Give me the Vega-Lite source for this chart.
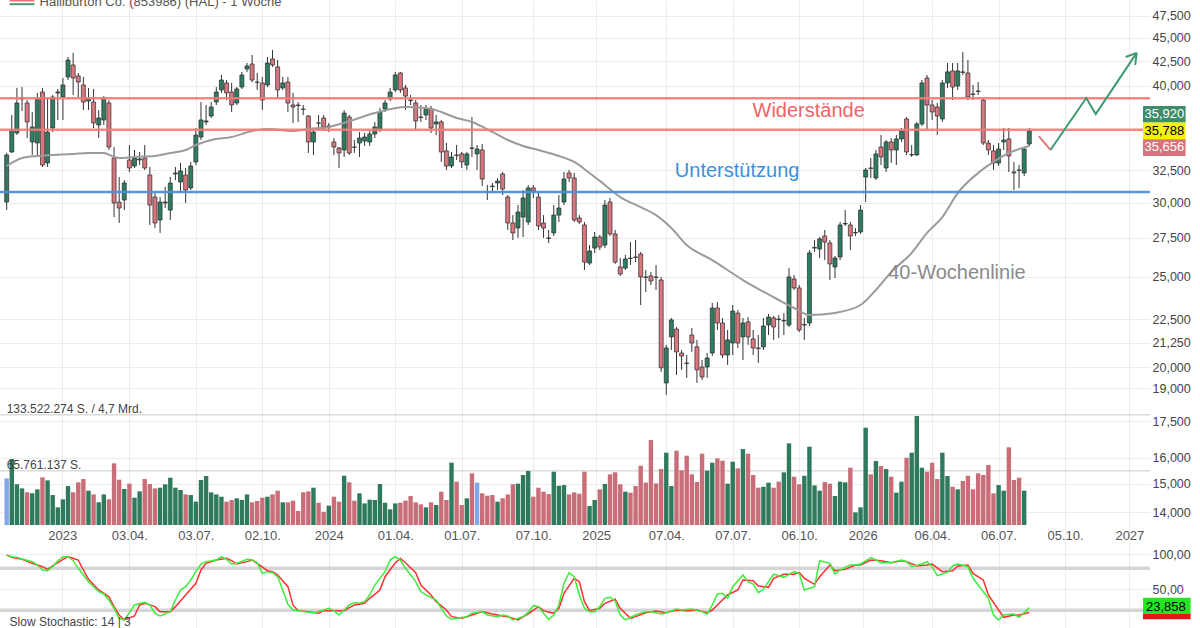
{
"$schema":"https://vega.github.io/schema/vega-lite/v6.json",
"width":1150,"height":628,
"autosize":{"type":"none"},
"padding":{"left":0,"top":0,"right":50,"bottom":0},
"background":"#ffffff",
"config":{"view":{"stroke":null},"font":"Liberation Sans","text":{"font":"Liberation Sans"}},
"datasets":{
"c":[
{"d":"2022-10-17","o":30.04,"h":33.90,"l":29.45,"c":33.73,"v":56.5,"f":1},
{"d":"2022-10-24","o":33.98,"h":37.22,"l":33.90,"c":35.87,"v":79.9},
{"d":"2022-10-31","o":35.61,"h":39.79,"l":35.43,"c":38.34,"v":49.3},
{"d":"2022-11-07","o":38.72,"h":39.88,"l":37.59,"c":38.81,"v":44.4},
{"d":"2022-11-14","o":38.34,"h":38.62,"l":35.17,"c":36.59,"v":39.6},
{"d":"2022-11-21","o":34.83,"h":37.50,"l":33.73,"c":36.14,"v":38.4},
{"d":"2022-11-28","o":34.74,"h":39.30,"l":33.73,"c":38.72,"v":43.2},
{"d":"2022-12-05","o":39.39,"h":39.79,"l":32.75,"c":32.91,"v":57.7},
{"d":"2022-12-12","o":33.07,"h":38.81,"l":32.75,"c":35.69,"v":54.1},
{"d":"2022-12-19","o":36.05,"h":39.10,"l":35.69,"c":38.91,"v":36.3},
{"d":"2022-12-26","o":39.30,"h":39.69,"l":36.77,"c":39.39,"v":21.4},
{"d":"2023-01-02","o":38.91,"h":40.77,"l":36.77,"c":40.08,"v":31.1},
{"d":"2023-01-09","o":40.88,"h":42.94,"l":40.57,"c":42.62,"v":47.2},
{"d":"2023-01-16","o":42.10,"h":43.37,"l":39.10,"c":40.77,"v":39.6},
{"d":"2023-01-23","o":40.98,"h":41.28,"l":38.91,"c":40.37,"v":51.7},
{"d":"2023-01-30","o":40.08,"h":40.88,"l":37.68,"c":38.43,"v":55.7},
{"d":"2023-02-06","o":38.53,"h":39.79,"l":37.68,"c":38.81,"v":41.6},
{"d":"2023-02-13","o":38.43,"h":39.69,"l":36.05,"c":36.50,"v":37.1},
{"d":"2023-02-20","o":36.32,"h":37.68,"l":35.17,"c":36.95,"v":27.5},
{"d":"2023-02-27","o":36.77,"h":39.00,"l":36.32,"c":38.81,"v":37.1},
{"d":"2023-03-06","o":38.34,"h":38.62,"l":34.15,"c":34.40,"v":31.1},
{"d":"2023-03-13","o":33.48,"h":34.40,"l":28.95,"c":29.97,"v":74.7},
{"d":"2023-03-20","o":30.04,"h":31.95,"l":28.53,"c":29.60,"v":54.9},
{"d":"2023-03-27","o":30.19,"h":31.71,"l":29.45,"c":31.48,"v":43.6},
{"d":"2023-04-03","o":33.32,"h":34.57,"l":32.35,"c":32.67,"v":50.1},
{"d":"2023-04-10","o":32.83,"h":34.15,"l":32.67,"c":33.48,"v":33.1},
{"d":"2023-04-17","o":33.32,"h":33.98,"l":32.91,"c":33.40,"v":40.8},
{"d":"2023-04-24","o":33.48,"h":34.57,"l":32.51,"c":32.67,"v":55.7},
{"d":"2023-05-01","o":32.11,"h":32.75,"l":28.39,"c":29.82,"v":49.7},
{"d":"2023-05-08","o":30.41,"h":30.71,"l":28.18,"c":28.53,"v":44.4},
{"d":"2023-05-15","o":28.74,"h":30.41,"l":27.84,"c":30.04,"v":45.2},
{"d":"2023-05-22","o":29.97,"h":31.17,"l":29.60,"c":30.04,"v":49.3},
{"d":"2023-05-29","o":29.45,"h":31.95,"l":28.74,"c":31.48,"v":57.3},
{"d":"2023-06-05","o":32.19,"h":32.75,"l":31.71,"c":32.27,"v":45.2},
{"d":"2023-06-12","o":31.56,"h":33.07,"l":30.71,"c":32.43,"v":42.4},
{"d":"2023-06-19","o":32.11,"h":32.67,"l":29.97,"c":30.94,"v":37.1},
{"d":"2023-06-26","o":31.10,"h":33.16,"l":30.94,"c":32.83,"v":36.3},
{"d":"2023-07-03","o":33.16,"h":36.05,"l":32.91,"c":35.43,"v":28.3},
{"d":"2023-07-10","o":35.26,"h":38.43,"l":35.00,"c":36.77,"v":54.5},
{"d":"2023-07-17","o":36.59,"h":38.15,"l":36.32,"c":36.68,"v":59.3},
{"d":"2023-07-24","o":37.13,"h":38.43,"l":36.95,"c":37.96,"v":39.6},
{"d":"2023-07-31","o":38.43,"h":39.88,"l":38.15,"c":39.39,"v":37.1},
{"d":"2023-08-07","o":39.59,"h":41.08,"l":39.30,"c":40.57,"v":34.3},
{"d":"2023-08-14","o":40.28,"h":40.57,"l":38.62,"c":39.30,"v":28.3},
{"d":"2023-08-21","o":39.39,"h":40.28,"l":37.50,"c":38.15,"v":30.3},
{"d":"2023-08-28","o":38.34,"h":39.88,"l":38.15,"c":39.69,"v":32.3},
{"d":"2023-09-04","o":39.88,"h":41.39,"l":39.69,"c":41.08,"v":30.3},
{"d":"2023-09-11","o":41.69,"h":42.31,"l":41.39,"c":42.00,"v":37.1},
{"d":"2023-09-18","o":42.20,"h":43.15,"l":40.37,"c":40.57,"v":27.5},
{"d":"2023-09-25","o":40.37,"h":41.28,"l":39.59,"c":40.35,"v":29.1},
{"d":"2023-10-02","o":40.28,"h":40.88,"l":37.68,"c":38.62,"v":33.1},
{"d":"2023-10-09","o":40.08,"h":42.94,"l":39.88,"c":42.31,"v":34.3},
{"d":"2023-10-16","o":42.73,"h":43.69,"l":41.90,"c":42.10,"v":37.1},
{"d":"2023-10-23","o":41.90,"h":42.62,"l":38.81,"c":39.59,"v":41.6},
{"d":"2023-10-30","o":39.79,"h":40.88,"l":39.59,"c":40.28,"v":27.5},
{"d":"2023-11-06","o":40.37,"h":40.88,"l":37.50,"c":38.34,"v":27.5},
{"d":"2023-11-13","o":38.15,"h":39.30,"l":36.50,"c":37.96,"v":29.5},
{"d":"2023-11-20","o":38.15,"h":38.43,"l":36.59,"c":38.10,"v":17.0},
{"d":"2023-11-27","o":37.77,"h":38.15,"l":37.22,"c":37.75,"v":39.6},
{"d":"2023-12-04","o":37.13,"h":37.22,"l":33.90,"c":34.83,"v":40.8},
{"d":"2023-12-11","o":34.83,"h":35.87,"l":33.73,"c":35.69,"v":45.2},
{"d":"2023-12-18","o":36.50,"h":37.22,"l":35.87,"c":36.48,"v":27.0},
{"d":"2023-12-25","o":36.95,"h":37.22,"l":35.87,"c":36.14,"v":16.1},
{"d":"2024-01-01","o":36.14,"h":36.50,"l":35.69,"c":36.23,"v":23.4},
{"d":"2024-01-08","o":34.83,"h":35.17,"l":33.73,"c":34.40,"v":34.3},
{"d":"2024-01-15","o":34.32,"h":34.40,"l":32.67,"c":33.90,"v":28.3},
{"d":"2024-01-22","o":34.15,"h":37.68,"l":33.57,"c":37.40,"v":59.7},
{"d":"2024-01-29","o":37.04,"h":37.22,"l":33.73,"c":33.90,"v":51.7},
{"d":"2024-02-05","o":34.40,"h":35.00,"l":33.90,"c":34.38,"v":29.5},
{"d":"2024-02-12","o":34.74,"h":35.69,"l":33.57,"c":35.17,"v":38.4},
{"d":"2024-02-19","o":34.91,"h":35.61,"l":34.49,"c":35.26,"v":26.2},
{"d":"2024-02-26","o":34.83,"h":35.87,"l":34.49,"c":35.52,"v":30.7},
{"d":"2024-03-04","o":35.52,"h":36.59,"l":35.17,"c":36.14,"v":30.3},
{"d":"2024-03-11","o":35.87,"h":37.87,"l":35.69,"c":37.50,"v":49.7},
{"d":"2024-03-18","o":37.77,"h":38.62,"l":37.50,"c":38.34,"v":27.0},
{"d":"2024-03-25","o":38.72,"h":39.79,"l":38.53,"c":39.39,"v":19.0},
{"d":"2024-04-01","o":39.59,"h":41.39,"l":39.39,"c":41.08,"v":26.2},
{"d":"2024-04-08","o":41.28,"h":41.39,"l":39.30,"c":39.59,"v":27.0},
{"d":"2024-04-15","o":39.79,"h":40.08,"l":37.68,"c":39.00,"v":29.5},
{"d":"2024-04-22","o":38.62,"h":39.10,"l":38.15,"c":38.58,"v":35.1},
{"d":"2024-04-29","o":38.34,"h":38.62,"l":35.87,"c":36.68,"v":27.5},
{"d":"2024-05-06","o":37.04,"h":38.15,"l":36.59,"c":37.00,"v":25.0},
{"d":"2024-05-13","o":37.22,"h":38.15,"l":36.77,"c":37.77,"v":21.4},
{"d":"2024-05-20","o":37.77,"h":38.06,"l":35.61,"c":36.05,"v":27.5},
{"d":"2024-05-27","o":36.41,"h":37.22,"l":35.43,"c":36.59,"v":24.2},
{"d":"2024-06-03","o":36.59,"h":36.77,"l":33.16,"c":33.98,"v":40.4},
{"d":"2024-06-10","o":34.07,"h":34.74,"l":32.51,"c":32.83,"v":30.3},
{"d":"2024-06-17","o":32.83,"h":33.98,"l":32.67,"c":33.57,"v":75.5},
{"d":"2024-06-24","o":33.73,"h":34.57,"l":33.32,"c":33.69,"v":52.5},
{"d":"2024-07-01","o":33.82,"h":33.98,"l":32.67,"c":33.16,"v":24.2},
{"d":"2024-07-08","o":32.91,"h":33.98,"l":32.51,"c":33.82,"v":32.3},
{"d":"2024-07-15","o":34.32,"h":37.04,"l":33.57,"c":34.28,"v":62.6},
{"d":"2024-07-22","o":33.82,"h":34.57,"l":32.51,"c":34.23,"v":51.3,"f":1},
{"d":"2024-07-29","o":34.15,"h":34.66,"l":31.25,"c":31.79,"v":38.4},
{"d":"2024-08-05","o":30.79,"h":31.33,"l":30.19,"c":30.75,"v":35.5},
{"d":"2024-08-12","o":31.25,"h":31.48,"l":30.71,"c":31.21,"v":36.3},
{"d":"2024-08-19","o":31.48,"h":31.87,"l":30.94,"c":31.63,"v":28.3},
{"d":"2024-08-26","o":32.19,"h":32.35,"l":30.56,"c":31.02,"v":32.3},
{"d":"2024-09-02","o":30.41,"h":30.56,"l":28.04,"c":28.53,"v":37.1},
{"d":"2024-09-09","o":28.53,"h":29.09,"l":27.36,"c":27.84,"v":49.3},
{"d":"2024-09-16","o":28.18,"h":29.82,"l":27.50,"c":29.31,"v":50.1},
{"d":"2024-09-23","o":28.95,"h":30.94,"l":27.56,"c":30.34,"v":60.6},
{"d":"2024-09-30","o":28.60,"h":31.33,"l":28.39,"c":31.10,"v":65.4},
{"d":"2024-10-07","o":31.10,"h":31.33,"l":30.34,"c":30.86,"v":34.3},
{"d":"2024-10-14","o":30.41,"h":30.79,"l":28.04,"c":28.32,"v":45.2},
{"d":"2024-10-21","o":28.53,"h":29.09,"l":27.50,"c":28.18,"v":40.4},
{"d":"2024-10-28","o":27.50,"h":28.04,"l":27.16,"c":27.46,"v":37.5},
{"d":"2024-11-04","o":27.84,"h":29.82,"l":27.63,"c":29.09,"v":64.6},
{"d":"2024-11-11","o":29.09,"h":30.56,"l":28.60,"c":29.60,"v":47.6},
{"d":"2024-11-18","o":30.04,"h":32.35,"l":29.82,"c":31.79,"v":48.4},
{"d":"2024-11-25","o":32.27,"h":32.51,"l":31.56,"c":31.87,"v":37.1},
{"d":"2024-12-02","o":31.87,"h":32.27,"l":28.60,"c":28.74,"v":39.6},
{"d":"2024-12-09","o":28.88,"h":29.09,"l":28.46,"c":28.60,"v":37.9},
{"d":"2024-12-16","o":28.39,"h":28.60,"l":25.41,"c":25.91,"v":64.6},
{"d":"2024-12-23","o":25.85,"h":27.02,"l":25.72,"c":26.63,"v":23.0},
{"d":"2024-12-30","o":26.82,"h":27.91,"l":26.50,"c":27.56,"v":30.3},
{"d":"2025-01-06","o":27.56,"h":27.70,"l":26.69,"c":26.89,"v":43.2},
{"d":"2025-01-13","o":27.02,"h":30.19,"l":26.82,"c":29.82,"v":49.7},
{"d":"2025-01-20","o":30.04,"h":30.34,"l":27.63,"c":27.77,"v":61.4},
{"d":"2025-01-27","o":27.77,"h":28.04,"l":25.79,"c":25.91,"v":63.8},
{"d":"2025-02-03","o":25.60,"h":26.17,"l":25.04,"c":25.16,"v":49.3},
{"d":"2025-02-10","o":25.53,"h":26.37,"l":25.41,"c":26.11,"v":40.4},
{"d":"2025-02-17","o":26.17,"h":27.22,"l":25.72,"c":26.14,"v":39.2},
{"d":"2025-02-24","o":26.24,"h":27.36,"l":25.91,"c":26.21,"v":47.2},
{"d":"2025-03-03","o":26.43,"h":26.56,"l":23.31,"c":24.98,"v":71.9},
{"d":"2025-03-10","o":24.98,"h":25.41,"l":24.07,"c":24.95,"v":51.3},
{"d":"2025-03-17","o":25.04,"h":25.29,"l":24.49,"c":24.73,"v":102.9},
{"d":"2025-03-24","o":24.98,"h":25.72,"l":24.19,"c":24.95,"v":50.5},
{"d":"2025-03-31","o":24.79,"h":24.98,"l":19.77,"c":19.97,"v":67.8},
{"d":"2025-04-07","o":19.24,"h":21.13,"l":18.68,"c":20.97,"v":87.6},
{"d":"2025-04-14","o":21.55,"h":22.58,"l":20.87,"c":22.47,"v":47.2},
{"d":"2025-04-21","o":21.97,"h":22.08,"l":19.62,"c":20.77,"v":90.0},
{"d":"2025-04-28","o":20.71,"h":20.87,"l":19.87,"c":20.56,"v":66.2},
{"d":"2025-05-05","o":20.21,"h":20.61,"l":19.48,"c":20.18,"v":84.0},
{"d":"2025-05-12","o":21.65,"h":22.03,"l":20.77,"c":21.23,"v":61.4},
{"d":"2025-05-19","o":21.03,"h":21.39,"l":19.24,"c":19.87,"v":52.1},
{"d":"2025-05-26","o":20.01,"h":20.36,"l":19.38,"c":19.52,"v":86.4},
{"d":"2025-06-02","o":20.01,"h":20.71,"l":19.48,"c":20.46,"v":65.8},
{"d":"2025-06-09","o":20.71,"h":23.43,"l":20.56,"c":23.14,"v":75.5},
{"d":"2025-06-16","o":23.14,"h":23.48,"l":21.92,"c":22.30,"v":80.7},
{"d":"2025-06-23","o":22.30,"h":22.58,"l":20.46,"c":20.61,"v":77.9},
{"d":"2025-06-30","o":20.61,"h":21.92,"l":20.11,"c":21.39,"v":50.1},
{"d":"2025-07-07","o":21.23,"h":23.31,"l":20.61,"c":22.97,"v":76.7},
{"d":"2025-07-14","o":22.85,"h":23.03,"l":20.97,"c":21.23,"v":68.6},
{"d":"2025-07-21","o":21.55,"h":22.58,"l":20.36,"c":22.30,"v":92.0},
{"d":"2025-07-28","o":22.36,"h":22.63,"l":21.13,"c":21.55,"v":86.4},
{"d":"2025-08-04","o":21.44,"h":21.92,"l":20.61,"c":20.97,"v":60.6},
{"d":"2025-08-11","o":20.97,"h":21.65,"l":20.21,"c":20.94,"v":45.2},
{"d":"2025-08-18","o":21.03,"h":22.58,"l":20.87,"c":22.14,"v":46.4},
{"d":"2025-08-25","o":22.19,"h":22.80,"l":21.65,"c":22.63,"v":51.3},
{"d":"2025-09-01","o":22.58,"h":22.69,"l":21.39,"c":22.08,"v":45.2},
{"d":"2025-09-08","o":22.52,"h":22.74,"l":21.49,"c":22.49,"v":52.5},
{"d":"2025-09-15","o":22.41,"h":22.85,"l":21.65,"c":22.44,"v":63.8},
{"d":"2025-09-22","o":22.19,"h":25.53,"l":22.08,"c":24.98,"v":98.9},
{"d":"2025-09-29","o":24.85,"h":25.10,"l":24.19,"c":24.31,"v":58.5},
{"d":"2025-10-06","o":24.31,"h":24.49,"l":21.81,"c":21.92,"v":49.3},
{"d":"2025-10-13","o":22.19,"h":22.58,"l":21.39,"c":22.22,"v":59.7},
{"d":"2025-10-20","o":22.30,"h":26.69,"l":22.14,"c":26.50,"v":94.9},
{"d":"2025-10-27","o":26.82,"h":27.36,"l":26.56,"c":26.86,"v":48.0},
{"d":"2025-11-03","o":26.76,"h":27.56,"l":26.17,"c":27.43,"v":41.6},
{"d":"2025-11-10","o":27.63,"h":28.04,"l":26.04,"c":27.22,"v":52.1},
{"d":"2025-11-17","o":27.16,"h":27.36,"l":24.79,"c":25.79,"v":50.1},
{"d":"2025-11-24","o":25.60,"h":26.30,"l":24.91,"c":26.17,"v":35.1},
{"d":"2025-12-01","o":26.24,"h":28.60,"l":26.04,"c":28.39,"v":52.5},
{"d":"2025-12-08","o":28.46,"h":29.45,"l":28.32,"c":28.50,"v":51.7},
{"d":"2025-12-15","o":28.39,"h":28.60,"l":26.69,"c":27.63,"v":69.4},
{"d":"2025-12-22","o":27.84,"h":28.18,"l":27.63,"c":27.87,"v":15.3},
{"d":"2025-12-29","o":27.91,"h":29.82,"l":27.77,"c":29.45,"v":21.4},
{"d":"2026-01-05","o":31.95,"h":32.67,"l":30.04,"c":32.51,"v":117.9},
{"d":"2026-01-12","o":32.67,"h":33.48,"l":31.87,"c":32.63,"v":61.4},
{"d":"2026-01-19","o":31.87,"h":34.15,"l":31.71,"c":33.82,"v":77.5},
{"d":"2026-01-26","o":34.40,"h":35.43,"l":32.91,"c":33.57,"v":71.5},
{"d":"2026-02-02","o":32.67,"h":35.00,"l":32.35,"c":34.83,"v":67.8},
{"d":"2026-02-09","o":34.83,"h":35.17,"l":33.07,"c":34.15,"v":58.5},
{"d":"2026-02-16","o":34.15,"h":35.43,"l":32.91,"c":35.09,"v":39.2},
{"d":"2026-02-23","o":35.09,"h":36.05,"l":34.83,"c":35.78,"v":52.5},
{"d":"2026-03-02","o":36.86,"h":37.04,"l":33.73,"c":33.98,"v":81.5},
{"d":"2026-03-09","o":33.73,"h":34.57,"l":33.57,"c":33.77,"v":87.6},
{"d":"2026-03-16","o":33.73,"h":36.59,"l":33.65,"c":36.41,"v":132.0},
{"d":"2026-03-23","o":36.41,"h":40.57,"l":36.23,"c":40.28,"v":69.4},
{"d":"2026-03-30","o":40.77,"h":41.08,"l":35.87,"c":38.15,"v":64.6},
{"d":"2026-04-06","o":38.15,"h":38.62,"l":36.77,"c":37.50,"v":75.5},
{"d":"2026-04-13","o":37.96,"h":38.34,"l":35.43,"c":37.13,"v":55.7},
{"d":"2026-04-20","o":36.86,"h":40.57,"l":36.59,"c":40.28,"v":87.6},
{"d":"2026-04-27","o":40.28,"h":42.31,"l":39.79,"c":41.39,"v":59.3},
{"d":"2026-05-04","o":41.49,"h":42.31,"l":38.62,"c":39.88,"v":46.4},
{"d":"2026-05-11","o":39.98,"h":42.31,"l":39.59,"c":41.49,"v":43.2},
{"d":"2026-05-18","o":41.39,"h":43.47,"l":41.08,"c":41.34,"v":53.3},
{"d":"2026-05-25","o":41.28,"h":42.62,"l":38.62,"c":38.91,"v":59.7},
{"d":"2026-06-01","o":39.20,"h":40.08,"l":38.62,"c":39.15,"v":43.2},
{"d":"2026-06-08","o":39.49,"h":40.37,"l":39.10,"c":39.44,"v":62.6},
{"d":"2026-06-15","o":38.62,"h":38.81,"l":34.57,"c":34.74,"v":60.6},
{"d":"2026-06-22","o":34.74,"h":35.00,"l":33.73,"c":34.15,"v":72.7},
{"d":"2026-06-29","o":34.07,"h":34.57,"l":32.51,"c":33.07,"v":38.4},
{"d":"2026-07-06","o":33.07,"h":34.74,"l":32.83,"c":34.23,"v":48.4},
{"d":"2026-07-13","o":34.83,"h":36.05,"l":34.15,"c":35.00,"v":41.6},
{"d":"2026-07-20","o":35.09,"h":36.05,"l":32.35,"c":33.65,"v":94.1},
{"d":"2026-07-27","o":32.35,"h":33.16,"l":30.94,"c":32.27,"v":54.5},
{"d":"2026-08-03","o":32.51,"h":32.91,"l":31.10,"c":32.47,"v":57.3},
{"d":"2026-08-10","o":32.27,"h":34.40,"l":32.03,"c":34.23,"v":41.6},
{"d":"2026-08-17","o":34.66,"h":36.05,"l":34.49,"c":35.788}
],
"ma":[
{"d":"2022-10-17","p":32.83},{"d":"2022-11-07","p":33.48},{"d":"2022-11-28","p":33.65},{"d":"2022-12-19","p":33.73},
{"d":"2023-01-16","p":33.81},{"d":"2023-02-06","p":33.90},{"d":"2023-02-27","p":33.90},{"d":"2023-03-13","p":33.57},
{"d":"2023-03-20","p":33.48},{"d":"2023-04-10","p":33.57},{"d":"2023-05-08","p":33.65},{"d":"2023-05-29","p":33.90},
{"d":"2023-06-19","p":34.15},{"d":"2023-07-03","p":34.57},{"d":"2023-07-24","p":35.00},{"d":"2023-08-21","p":35.26},
{"d":"2023-09-18","p":35.78},{"d":"2023-10-09","p":35.96},{"d":"2023-11-13","p":35.78},{"d":"2023-12-04","p":35.96},
{"d":"2024-01-01","p":36.14},{"d":"2024-01-22","p":36.50},{"d":"2024-03-04","p":37.40},{"d":"2024-04-15","p":37.96},
{"d":"2024-05-13","p":37.87},{"d":"2024-06-03","p":37.50},{"d":"2024-06-24","p":36.95},{"d":"2024-07-15","p":36.59},
{"d":"2024-08-12","p":35.70},{"d":"2024-09-02","p":35.00},{"d":"2024-09-23","p":34.49},{"d":"2024-10-14","p":34.15},
{"d":"2024-11-11","p":33.65},{"d":"2024-12-02","p":33.16},{"d":"2024-12-23","p":32.27},{"d":"2025-01-13","p":31.33},
{"d":"2025-02-03","p":30.41},{"d":"2025-03-03","p":29.67},{"d":"2025-03-24","p":29.09},{"d":"2025-04-14","p":28.18},
{"d":"2025-05-05","p":27.02},{"d":"2025-06-09","p":26.04},{"d":"2025-07-21","p":24.79},{"d":"2025-09-08","p":23.60},
{"d":"2025-09-29","p":23.14},{"d":"2025-10-20","p":22.74},{"d":"2025-11-24","p":22.86},{"d":"2025-12-29","p":23.31},
{"d":"2026-01-19","p":24.19},{"d":"2026-02-09","p":25.28},{"d":"2026-03-09","p":26.50},{"d":"2026-03-30","p":27.84},
{"d":"2026-04-20","p":28.95},{"d":"2026-05-11","p":30.71},{"d":"2026-06-08","p":32.27},{"d":"2026-06-29","p":33.16},
{"d":"2026-07-20","p":33.90},{"d":"2026-08-17","p":34.49}
],
"sk":[
{"d":"2022-10-17","v":99.0},{"d":"2022-10-24","v":96.6},{"d":"2022-10-31","v":95.6},{"d":"2022-11-07","v":93.3},{"d":"2022-11-21","v":89.5},{"d":"2022-11-28","v":84.7},{"d":"2022-12-05","v":77.6},{"d":"2022-12-12","v":76.6},{"d":"2022-12-19","v":82.3},{"d":"2022-12-26","v":90.9},
{"d":"2023-01-02","v":96.6},{"d":"2023-01-09","v":96.6},{"d":"2023-01-16","v":90.9},{"d":"2023-01-23","v":80.0},{"d":"2023-01-30","v":70.4},{"d":"2023-02-06","v":60.9},{"d":"2023-02-20","v":46.6},{"d":"2023-02-27","v":43.3},{"d":"2023-03-06","v":34.7},{"d":"2023-03-13","v":22.8},
{"d":"2023-03-20","v":8.5},{"d":"2023-03-27","v":6.2},{"d":"2023-04-03","v":16.6},{"d":"2023-04-10","v":27.6},{"d":"2023-04-24","v":31.4},{"d":"2023-05-01","v":27.6},{"d":"2023-05-08","v":15.7},{"d":"2023-05-15","v":11.9},{"d":"2023-05-29","v":18.1},{"d":"2023-06-05","v":34.7},
{"d":"2023-06-12","v":49.0},{"d":"2023-06-19","v":53.8},{"d":"2023-06-26","v":63.3},{"d":"2023-07-03","v":75.2},{"d":"2023-07-10","v":86.1},{"d":"2023-07-17","v":89.5},{"d":"2023-07-31","v":91.8},{"d":"2023-08-07","v":96.6},{"d":"2023-08-14","v":92.8},{"d":"2023-08-21","v":86.1},
{"d":"2023-08-28","v":87.1},{"d":"2023-09-11","v":92.8},{"d":"2023-09-18","v":91.8},{"d":"2023-09-25","v":88.0},{"d":"2023-10-02","v":72.8},{"d":"2023-10-09","v":75.2},{"d":"2023-10-16","v":73.7},{"d":"2023-10-23","v":68.0},{"d":"2023-10-30","v":49.0},{"d":"2023-11-06","v":28.5},
{"d":"2023-11-13","v":20.4},{"d":"2023-11-27","v":18.1},{"d":"2023-12-11","v":16.6},{"d":"2023-12-25","v":20.4},{"d":"2024-01-01","v":22.8},{"d":"2024-01-08","v":19.5},{"d":"2024-01-15","v":13.3},{"d":"2024-01-22","v":20.4},{"d":"2024-01-29","v":27.6},{"d":"2024-02-05","v":30.9},
{"d":"2024-02-12","v":30.0},{"d":"2024-02-19","v":32.3},{"d":"2024-02-26","v":41.9},{"d":"2024-03-04","v":56.1},{"d":"2024-03-18","v":75.2},{"d":"2024-03-25","v":91.8},{"d":"2024-04-01","v":96.6},{"d":"2024-04-08","v":91.8},{"d":"2024-04-15","v":80.0},{"d":"2024-04-29","v":60.9},
{"d":"2024-05-06","v":46.6},{"d":"2024-05-13","v":41.9},{"d":"2024-05-27","v":34.7},{"d":"2024-06-03","v":22.8},{"d":"2024-06-10","v":11.9},{"d":"2024-06-17","v":7.1},{"d":"2024-06-24","v":8.5},{"d":"2024-07-08","v":10.9},{"d":"2024-07-15","v":15.7},{"d":"2024-07-29","v":18.1},
{"d":"2024-08-05","v":13.3},{"d":"2024-08-19","v":10.9},{"d":"2024-08-26","v":13.3},{"d":"2024-09-02","v":11.9},{"d":"2024-09-09","v":6.2},{"d":"2024-09-23","v":10.9},{"d":"2024-09-30","v":17.0},{"d":"2024-10-07","v":26.6},{"d":"2024-10-14","v":25.2},{"d":"2024-10-21","v":15.7},
{"d":"2024-10-28","v":7.1},{"d":"2024-11-04","v":13.3},{"d":"2024-11-11","v":27.6},{"d":"2024-11-18","v":58.5},{"d":"2024-11-25","v":73.7},{"d":"2024-12-02","v":68.0},{"d":"2024-12-09","v":41.9},{"d":"2024-12-16","v":22.8},{"d":"2024-12-23","v":18.1},{"d":"2024-12-30","v":18.1},
{"d":"2025-01-06","v":25.2},{"d":"2025-01-13","v":37.1},{"d":"2025-01-20","v":38.5},{"d":"2025-01-27","v":33.8},{"d":"2025-02-03","v":13.3},{"d":"2025-02-10","v":6.2},{"d":"2025-02-24","v":13.3},{"d":"2025-03-03","v":15.7},{"d":"2025-03-10","v":18.1},{"d":"2025-03-17","v":18.1},
{"d":"2025-03-31","v":14.7},{"d":"2025-04-07","v":16.6},{"d":"2025-04-21","v":21.9},{"d":"2025-04-28","v":20.4},{"d":"2025-05-12","v":21.9},{"d":"2025-05-26","v":18.1},{"d":"2025-06-02","v":14.7},{"d":"2025-06-09","v":27.6},{"d":"2025-06-16","v":43.3},{"d":"2025-06-23","v":44.2},
{"d":"2025-06-30","v":37.1},{"d":"2025-07-07","v":53.8},{"d":"2025-07-21","v":70.4},{"d":"2025-07-28","v":60.9},{"d":"2025-08-04","v":57.6},{"d":"2025-08-11","v":45.2},{"d":"2025-08-18","v":50.0},{"d":"2025-08-25","v":60.9},{"d":"2025-09-01","v":71.8},{"d":"2025-09-15","v":67.1},
{"d":"2025-09-29","v":75.2},{"d":"2025-10-06","v":72.8},{"d":"2025-10-13","v":49.0},{"d":"2025-10-27","v":53.8},{"d":"2025-11-03","v":90.9},{"d":"2025-11-17","v":87.1},{"d":"2025-11-24","v":71.8},{"d":"2025-12-01","v":77.6},{"d":"2025-12-15","v":84.7},{"d":"2025-12-22","v":84.7},
{"d":"2025-12-29","v":86.1},{"d":"2026-01-12","v":95.2},{"d":"2026-01-19","v":91.8},{"d":"2026-01-26","v":88.0},{"d":"2026-02-09","v":88.0},{"d":"2026-02-23","v":91.8},{"d":"2026-03-02","v":89.5},{"d":"2026-03-09","v":82.3},{"d":"2026-03-23","v":86.1},{"d":"2026-03-30","v":89.5},
{"d":"2026-04-06","v":82.3},{"d":"2026-04-13","v":69.5},{"d":"2026-04-27","v":74.2},{"d":"2026-05-04","v":83.3},{"d":"2026-05-11","v":86.1},{"d":"2026-05-25","v":82.3},{"d":"2026-06-01","v":65.7},{"d":"2026-06-08","v":56.1},{"d":"2026-06-22","v":37.1},{"d":"2026-06-29","v":13.3},
{"d":"2026-07-06","v":6.2},{"d":"2026-07-13","v":13.3},{"d":"2026-07-27","v":14.7},{"d":"2026-08-03","v":10.0},{"d":"2026-08-10","v":16.6},{"d":"2026-08-17","v":23.858}
],
"sd":[
{"d":"2022-10-17","v":99.0},{"d":"2022-10-24","v":95.6},{"d":"2022-11-07","v":92.8},{"d":"2022-11-21","v":87.1},{"d":"2022-12-05","v":82.3},{"d":"2022-12-12","v":78.5},{"d":"2022-12-19","v":83.3},{"d":"2023-01-02","v":92.8},{"d":"2023-01-09","v":96.6},{"d":"2023-01-23","v":91.8},
{"d":"2023-01-30","v":77.6},{"d":"2023-02-06","v":64.2},{"d":"2023-02-20","v":49.0},{"d":"2023-03-06","v":39.5},{"d":"2023-03-13","v":25.2},{"d":"2023-03-20","v":13.3},{"d":"2023-03-27","v":6.2},{"d":"2023-04-10","v":11.9},{"d":"2023-04-17","v":27.6},{"d":"2023-04-24","v":30.0},
{"d":"2023-05-08","v":25.2},{"d":"2023-05-15","v":18.1},{"d":"2023-05-29","v":18.1},{"d":"2023-06-05","v":25.2},{"d":"2023-06-19","v":41.9},{"d":"2023-07-03","v":58.5},{"d":"2023-07-10","v":77.6},{"d":"2023-07-17","v":87.1},{"d":"2023-07-31","v":91.8},{"d":"2023-08-14","v":94.2},
{"d":"2023-08-21","v":90.9},{"d":"2023-08-28","v":86.1},{"d":"2023-09-11","v":89.5},{"d":"2023-09-18","v":91.8},{"d":"2023-09-25","v":87.1},{"d":"2023-10-09","v":76.6},{"d":"2023-10-16","v":75.2},{"d":"2023-10-23","v":70.4},{"d":"2023-11-06","v":53.8},{"d":"2023-11-13","v":27.6},
{"d":"2023-11-20","v":19.5},{"d":"2023-12-04","v":18.1},{"d":"2023-12-18","v":15.7},{"d":"2023-12-25","v":19.5},{"d":"2024-01-08","v":19.5},{"d":"2024-01-22","v":19.5},{"d":"2024-01-29","v":23.8},{"d":"2024-02-05","v":27.6},{"d":"2024-02-19","v":30.0},{"d":"2024-02-26","v":37.1},
{"d":"2024-03-11","v":49.0},{"d":"2024-03-18","v":68.0},{"d":"2024-04-01","v":88.0},{"d":"2024-04-08","v":94.2},{"d":"2024-04-15","v":88.0},{"d":"2024-04-29","v":73.7},{"d":"2024-05-06","v":56.1},{"d":"2024-05-20","v":41.9},{"d":"2024-05-27","v":32.3},{"d":"2024-06-10","v":20.4},
{"d":"2024-06-17","v":10.9},{"d":"2024-07-01","v":8.5},{"d":"2024-07-08","v":10.9},{"d":"2024-07-22","v":15.7},{"d":"2024-07-29","v":18.1},{"d":"2024-08-12","v":14.7},{"d":"2024-08-26","v":11.9},{"d":"2024-09-02","v":10.9},{"d":"2024-09-16","v":6.2},{"d":"2024-09-30","v":15.0},
{"d":"2024-10-14","v":25.2},{"d":"2024-10-21","v":19.5},{"d":"2024-11-04","v":15.7},{"d":"2024-11-11","v":22.8},{"d":"2024-11-18","v":44.2},{"d":"2024-12-02","v":65.7},{"d":"2024-12-09","v":60.9},{"d":"2024-12-16","v":32.3},{"d":"2024-12-23","v":19.5},{"d":"2025-01-06","v":22.8},
{"d":"2025-01-13","v":30.0},{"d":"2025-01-27","v":35.7},{"d":"2025-02-03","v":22.8},{"d":"2025-02-17","v":8.5},{"d":"2025-02-24","v":10.9},{"d":"2025-03-10","v":16.6},{"d":"2025-03-24","v":19.0},{"d":"2025-04-07","v":16.6},{"d":"2025-04-21","v":20.4},{"d":"2025-05-05","v":19.5},
{"d":"2025-05-19","v":20.4},{"d":"2025-06-02","v":16.6},{"d":"2025-06-09","v":20.4},{"d":"2025-06-23","v":34.7},{"d":"2025-06-30","v":41.9},{"d":"2025-07-14","v":49.0},{"d":"2025-07-21","v":63.3},{"d":"2025-08-04","v":62.3},{"d":"2025-08-11","v":54.7},{"d":"2025-08-25","v":52.8},
{"d":"2025-09-01","v":65.7},{"d":"2025-09-15","v":71.4},{"d":"2025-09-29","v":71.4},{"d":"2025-10-06","v":74.2},{"d":"2025-10-13","v":65.7},{"d":"2025-10-27","v":57.1},{"d":"2025-11-03","v":68.0},{"d":"2025-11-17","v":84.7},{"d":"2025-11-24","v":76.6},{"d":"2025-12-08","v":78.5},
{"d":"2025-12-22","v":84.7},{"d":"2025-12-29","v":84.7},{"d":"2026-01-12","v":91.8},{"d":"2026-01-26","v":90.9},{"d":"2026-02-09","v":88.0},{"d":"2026-02-23","v":90.9},{"d":"2026-03-02","v":89.5},{"d":"2026-03-16","v":83.3},{"d":"2026-03-30","v":84.7},{"d":"2026-04-06","v":86.1},
{"d":"2026-04-20","v":75.2},{"d":"2026-05-04","v":76.6},{"d":"2026-05-11","v":83.3},{"d":"2026-05-25","v":84.7},{"d":"2026-06-01","v":72.8},{"d":"2026-06-15","v":63.3},{"d":"2026-06-22","v":41.9},{"d":"2026-07-06","v":20.4},{"d":"2026-07-13","v":10.0},{"d":"2026-07-27","v":13.3},
{"d":"2026-08-03","v":13.3},{"d":"2026-08-17","v":17.0}
],
"hl":[{"p":38.79,"k":"r"},{"p":35.9,"k":"r"},{"p":30.8,"k":"b"}],
"arrR":[{"d":"2026-08-30","p":35.34},{"d":"2026-09-15","p":34.15}],
"arrG":[{"d":"2026-09-15","p":34.15},{"d":"2026-11-03","p":38.81},{"d":"2026-11-16","p":37.31},{"d":"2027-01-11","p":43.37}],
"arrH":[{"d":"2026-12-27","p":42.94,"s":1},{"d":"2027-01-11","p":43.37,"s":1},{"d":"2027-01-09","p":42.10,"s":2},{"d":"2027-01-11","p":43.37,"s":2}],
"lbl":[{"d":"2025-10-19","p":37.01,"t":"Widerstände","k":"r"},{"d":"2025-07-13","p":31.98,"t":"Unterstützung","k":"b"},{"d":"2026-05-10","p":24.83,"t":"40-Wochenlinie","k":"g"}],
"ttl":[{"d":"2022-12-01","p":48.72,"t":"Halliburton Co. (853986) (HAL) - 1 Woche"}],
"ico":[{"p":49.35,"k":"r"},{"p":48.9,"k":"g"}],
"bx":[{"p1":38.06,"p2":36.53,"pt":37.28,"t":"35,920","k":"g"},{"p1":36.53,"p2":35.06,"pt":35.78,"t":"35,788","k":"y"},{"p1":35.06,"p2":33.65,"pt":34.43,"t":"35,656","k":"r"}],
"vl":[{"v":133.522274,"t":"133.522.274 S. / 4,7 Mrd."},{"v":65.761137,"t":"65.761.137 S."}],
"sr":[{"v":80},{"v":20}],
"sb":[{"v1":14.7,"v2":7.1,"k":"r"},{"v1":38.0,"v2":14.7,"k":"g"}],
"st":[{"v":24.3,"t":"23,858","k":"val"},{"v":-2.4,"t":"Slow Stochastic: 14 | 3","k":"name"}]
},
"layer":[
{"layer":[
 {"data":{"name":"c"},"mark":{"type":"rule","color":"#333333","strokeWidth":1},
  "encoding":{"x":{"field":"d","type":"temporal","title":null,
 "scale":{"domain":[{"year":2022,"month":10,"date":14,"hours":17,"utc":true},{"year":2027,"month":1,"date":22,"hours":10,"utc":true}]},
 "axis":{"values":[{"year":2023,"month":1,"date":1,"utc":true},{"year":2023,"month":4,"date":3,"utc":true},{"year":2023,"month":7,"date":3,"utc":true},{"year":2023,"month":10,"date":2,"utc":true},{"year":2024,"month":1,"date":1,"utc":true},{"year":2024,"month":4,"date":1,"utc":true},{"year":2024,"month":7,"date":1,"utc":true},{"year":2024,"month":10,"date":7,"utc":true},{"year":2025,"month":1,"date":1,"utc":true},{"year":2025,"month":4,"date":7,"utc":true},{"year":2025,"month":7,"date":7,"utc":true},{"year":2025,"month":10,"date":6,"utc":true},{"year":2026,"month":1,"date":1,"utc":true},{"year":2026,"month":4,"date":6,"utc":true},{"year":2026,"month":7,"date":6,"utc":true},{"year":2026,"month":10,"date":5,"utc":true},{"year":2027,"month":1,"date":1,"utc":true}],
  "labelExpr":"utcFormat(datum.value,'%m-%d')=='01-01' ? utcFormat(datum.value,'%Y') : utcFormat(datum.value,'%d.%m.')",
  "grid":true,"gridColor":"#ececec","domain":false,"ticks":false,"labelColor":"#555555","labelFontSize":13,"labelFont":"Liberation Sans","labelPadding":3,"labelDx":2,"offset":-102,"labelOverlap":false,"labelFlush":false,"labelBound":false}},
   "y":{"field":"l","type":"quantitative","title":null,"scale":{"type":"log","domain":[10.521,49.409],"nice":false,"zero":false},
   "axis":{"orient":"right","values":[47.5,45,42.5,40,32.5,30,27.5,25,22.5,21.25,20,19,17.5,16,15,14],"labelExpr":"replace(format(datum.value,'.3f'),'.',',')","grid":true,"gridColor":"#ececec","domain":false,"ticks":false,"labelPadding":2,"labelFontSize":12.5,"labelColor":"#444444","labelFont":"Liberation Sans","title":null,"labelOverlap":false,"labelFlush":false,"labelBound":false}},
   "y2":{"field":"h"}}},
 {"data":{"name":"c"},"mark":{"type":"bar","size":4,"stroke":"#2a2a2a","strokeWidth":0.7},
  "encoding":{"x":{"field":"d","type":"temporal","title":null},"y":{"field":"o","type":"quantitative","title":null,"scale":{"type":"log","domain":[10.521,49.409],"nice":false,"zero":false}},"y2":{"field":"c"},
   "color":{"condition":{"test":"datum.c >= datum.o","value":"#2e7d5e"},"value":"#d9777f"}}},
 {"data":{"name":"ma"},"mark":{"type":"line","color":"#9b9b9b","strokeWidth":2,"interpolate":"monotone"},
  "encoding":{"x":{"field":"d","type":"temporal","title":null},"y":{"field":"p","type":"quantitative","title":null}}},
 {"data":{"name":"hl"},"transform":[{"filter":"datum.k=='r'"}],"mark":{"type":"rule","color":"#f47a7a","strokeWidth":2.5,"opacity":0.9},
  "encoding":{"y":{"field":"p","type":"quantitative","title":null}}},
 {"data":{"name":"hl"},"transform":[{"filter":"datum.k=='b'"}],"mark":{"type":"rule","color":"#4a8fdc","strokeWidth":2.5,"opacity":0.95},
  "encoding":{"y":{"field":"p","type":"quantitative","title":null}}},
 {"data":{"name":"arrR"},"mark":{"type":"line","color":"#e07a7a","strokeWidth":2},
  "encoding":{"x":{"field":"d","type":"temporal","title":null},"y":{"field":"p","type":"quantitative","title":null}}},
 {"data":{"name":"arrG"},"mark":{"type":"line","color":"#3d9a70","strokeWidth":2},
  "encoding":{"x":{"field":"d","type":"temporal","title":null},"y":{"field":"p","type":"quantitative","title":null}}},
 {"data":{"name":"arrH"},"mark":{"type":"line","color":"#3d9a70","strokeWidth":2},
  "encoding":{"x":{"field":"d","type":"temporal","title":null},"y":{"field":"p","type":"quantitative","title":null},"detail":{"field":"s"}}},
 {"data":{"name":"lbl"},"transform":[{"filter":"datum.k=='r'"}],"mark":{"type":"text","fontSize":20,"color":"#f06464","align":"center","baseline":"alphabetic"},
  "encoding":{"x":{"field":"d","type":"temporal","title":null},"y":{"field":"p","type":"quantitative","title":null},"text":{"field":"t"}}},
 {"data":{"name":"lbl"},"transform":[{"filter":"datum.k=='b'"}],"mark":{"type":"text","fontSize":20,"color":"#3d8fdc","align":"center","baseline":"alphabetic"},
  "encoding":{"x":{"field":"d","type":"temporal","title":null},"y":{"field":"p","type":"quantitative","title":null},"text":{"field":"t"}}},
 {"data":{"name":"lbl"},"transform":[{"filter":"datum.k=='g'"}],"mark":{"type":"text","fontSize":20,"color":"#8a8a8a","align":"center","baseline":"alphabetic"},
  "encoding":{"x":{"field":"d","type":"temporal","title":null},"y":{"field":"p","type":"quantitative","title":null},"text":{"field":"t"}}},
 {"data":{"name":"ttl"},"mark":{"type":"text","fontSize":13,"color":"#555555","align":"left","baseline":"alphabetic"},
  "encoding":{"x":{"field":"d","type":"temporal","title":null},"y":{"field":"p","type":"quantitative","title":null},"text":{"field":"t"}}},
 {"data":{"name":"ico"},"transform":[{"filter":"datum.k=='r'"}],"mark":{"type":"rule","color":"#e87070","strokeWidth":2},
  "encoding":{"x":{"datum":{"year":2022,"month":10,"date":21,"utc":true},"type":"temporal"},"x2":{"datum":{"year":2022,"month":11,"date":24,"utc":true}},"y":{"field":"p","type":"quantitative","title":null}}},
 {"data":{"name":"ico"},"transform":[{"filter":"datum.k=='g'"}],"mark":{"type":"rule","color":"#4a9a72","strokeWidth":2},
  "encoding":{"x":{"datum":{"year":2022,"month":10,"date":21,"utc":true},"type":"temporal"},"x2":{"datum":{"year":2022,"month":11,"date":24,"utc":true}},"y":{"field":"p","type":"quantitative","title":null}}},
 {"data":{"name":"bx"},"transform":[{"filter":"datum.k=='g'"}],"mark":{"type":"rect","color":"#3e8c69"},
  "encoding":{"x":{"datum":{"year":2027,"month":1,"date":19,"hours":17,"utc":true},"type":"temporal"},"x2":{"datum":{"year":2027,"month":3,"date":19,"utc":true}},"y":{"field":"p1","type":"quantitative","title":null},"y2":{"field":"p2"}}},
 {"data":{"name":"bx"},"transform":[{"filter":"datum.k=='y'"}],"mark":{"type":"rect","color":"#f2f20d"},
  "encoding":{"x":{"datum":{"year":2027,"month":1,"date":19,"hours":17,"utc":true},"type":"temporal"},"x2":{"datum":{"year":2027,"month":3,"date":19,"utc":true}},"y":{"field":"p1","type":"quantitative","title":null},"y2":{"field":"p2"}}},
 {"data":{"name":"bx"},"transform":[{"filter":"datum.k=='r'"}],"mark":{"type":"rect","color":"#d8737b"},
  "encoding":{"x":{"datum":{"year":2027,"month":1,"date":19,"hours":17,"utc":true},"type":"temporal"},"x2":{"datum":{"year":2027,"month":3,"date":19,"utc":true}},"y":{"field":"p1","type":"quantitative","title":null},"y2":{"field":"p2"}}},
 {"data":{"name":"bx"},"transform":[{"filter":"datum.k!='y'"}],"mark":{"type":"text","fontSize":13,"color":"#ffffff","align":"center","baseline":"middle"},
  "encoding":{"x":{"datum":{"year":2027,"month":2,"date":17,"hours":22,"utc":true},"type":"temporal"},"y":{"field":"pt","type":"quantitative","title":null},"text":{"field":"t"}}},
 {"data":{"name":"bx"},"transform":[{"filter":"datum.k=='y'"}],"mark":{"type":"text","fontSize":13,"color":"#000000","align":"center","baseline":"middle"},
  "encoding":{"x":{"datum":{"year":2027,"month":2,"date":17,"hours":22,"utc":true},"type":"temporal"},"y":{"field":"pt","type":"quantitative","title":null},"text":{"field":"t"}}}
]},
{"layer":[
 {"data":{"name":"vl"},"mark":{"type":"rule","color":"#dcdcdc","strokeWidth":1.5},
  "encoding":{"y":{"field":"v","type":"quantitative","title":null,"scale":{"domain":[-124.7,635.8],"nice":false,"zero":false},"axis":null}}},
 {"data":{"name":"c"},"transform":[{"filter":"isValid(datum.v)"}],"mark":{"type":"bar","size":4.4},
  "encoding":{"x":{"field":"d","type":"temporal","title":null},"y":{"field":"v","type":"quantitative","title":null},"y2":{"datum":0},
   "color":{"condition":[{"test":"datum.f == 1","value":"#7ea8ea"},{"test":"datum.c >= datum.o","value":"#2f7a5c"}],"value":"#c96e78"}}},
 {"data":{"name":"vl"},"mark":{"type":"text","fontSize":12,"color":"#444444","align":"left","baseline":"alphabetic","dy":-2},
  "encoding":{"x":{"datum":{"year":2022,"month":10,"date":17,"utc":true},"type":"temporal"},"y":{"field":"v","type":"quantitative","title":null},"text":{"field":"t"}}}
]},
{"layer":[
 {"data":{"name":"sr"},"mark":{"type":"rule","color":"#d5d5d9","strokeWidth":3.5},
  "encoding":{"y":{"field":"v","type":"quantitative","title":null,"scale":{"domain":[-5.29,891.9],"nice":false,"zero":false},
    "axis":{"orient":"right","values":[100,50],"labelExpr":"replace(format(datum.value,'.2f'),'.',',')","grid":true,"gridColor":"#ececec","domain":false,"ticks":false,"labelPadding":2,"labelFontSize":12.5,"labelColor":"#444444","labelFont":"Liberation Sans","title":null}}}},
 {"data":{"name":"sd"},"mark":{"type":"line","color":"#ff3030","strokeWidth":1.5},
  "encoding":{"x":{"field":"d","type":"temporal","title":null},"y":{"field":"v","type":"quantitative","title":null}}},
 {"data":{"name":"sk"},"mark":{"type":"line","color":"#3ced3c","strokeWidth":1.5},
  "encoding":{"x":{"field":"d","type":"temporal","title":null},"y":{"field":"v","type":"quantitative","title":null}}},
 {"data":{"name":"sb"},"transform":[{"filter":"datum.k=='r'"}],"mark":{"type":"rect","color":"#e8141e"},
  "encoding":{"x":{"datum":{"year":2027,"month":1,"date":19,"hours":17,"utc":true},"type":"temporal"},"x2":{"datum":{"year":2027,"month":3,"date":25,"hours":20,"utc":true}},"y":{"field":"v1","type":"quantitative","title":null},"y2":{"field":"v2"}}},
 {"data":{"name":"sb"},"transform":[{"filter":"datum.k=='g'"}],"mark":{"type":"rect","color":"#22e622"},
  "encoding":{"x":{"datum":{"year":2027,"month":1,"date":19,"hours":17,"utc":true},"type":"temporal"},"x2":{"datum":{"year":2027,"month":3,"date":25,"hours":20,"utc":true}},"y":{"field":"v1","type":"quantitative","title":null},"y2":{"field":"v2"}}},
 {"data":{"name":"st"},"transform":[{"filter":"datum.k=='val'"}],"mark":{"type":"text","fontSize":13,"color":"#000000","align":"center","baseline":"middle"},
  "encoding":{"x":{"datum":{"year":2027,"month":2,"date":19,"hours":22,"utc":true},"type":"temporal"},"y":{"field":"v","type":"quantitative","title":null},"text":{"field":"t"}}},
 {"data":{"name":"st"},"transform":[{"filter":"datum.k=='name'"}],"mark":{"type":"text","fontSize":12,"color":"#444444","align":"left","baseline":"alphabetic"},
  "encoding":{"x":{"datum":{"year":2022,"month":10,"date":21,"utc":true},"type":"temporal"},"y":{"field":"v","type":"quantitative","title":null},"text":{"field":"t"}}}
]}
],
"resolve":{"scale":{"y":"independent"},"axis":{"y":"independent"}}
}
